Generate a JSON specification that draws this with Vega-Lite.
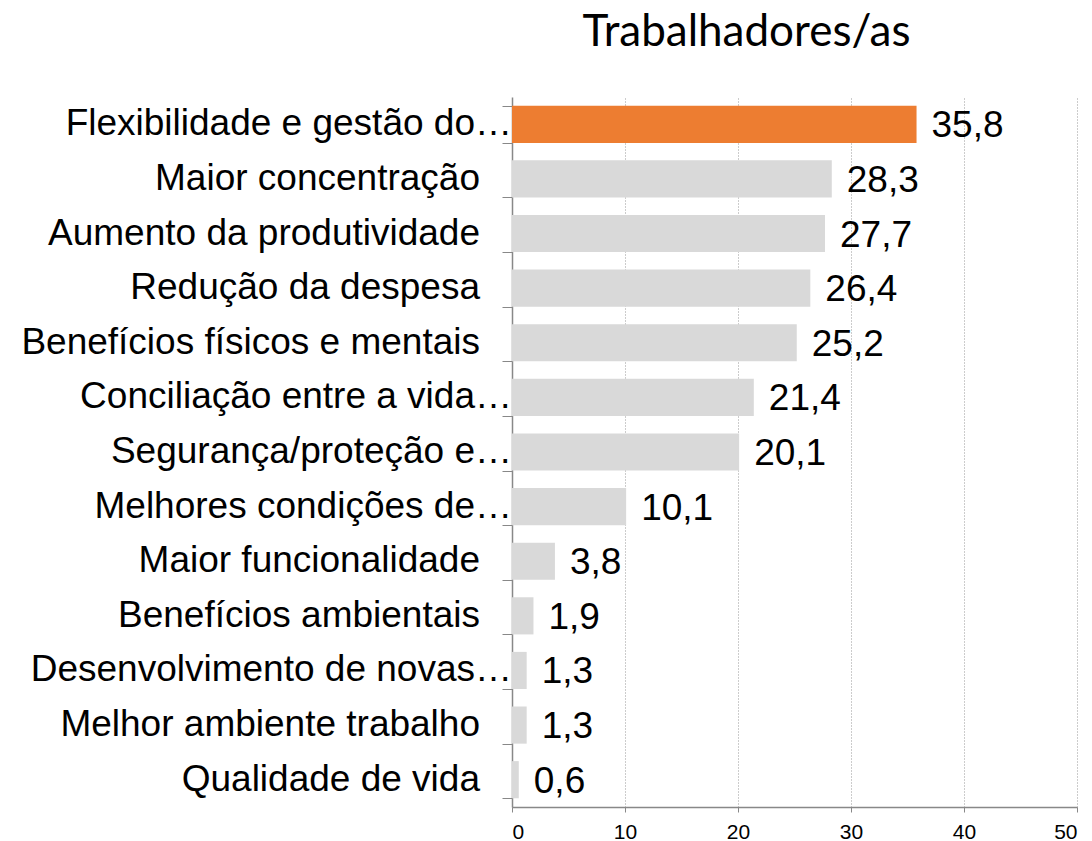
{
  "$schema": "https://vega.github.io/schema/vega-lite/v6.json",
  "autosize": "none",
  "width": 565,
  "height": 710,
  "padding": {"left": 512, "top": 97, "right": 15, "bottom": 34},
  "background": "white",
  "title": {"text": "Trabalhadores/as", "font": "Lato", "fontSize": 44, "fontWeight": "normal", "color": "#000000", "anchor": "middle", "frame": "group", "dx": -48, "offset": 42},
  "config": {
    "view": {"stroke": null},
    "locale": {"number": {"decimal": ",", "thousands": ".", "grouping": [3], "currency": ["", " €"]}}
  },
  "data": {
    "values": [
      {"categoria": "Flexibilidade e gestão do…", "valor": 35.8, "destaque": "sim"},
      {"categoria": "Maior concentração", "valor": 28.3, "destaque": "nao"},
      {"categoria": "Aumento da produtividade", "valor": 27.7, "destaque": "nao"},
      {"categoria": "Redução da despesa", "valor": 26.4, "destaque": "nao"},
      {"categoria": "Benefícios físicos e mentais", "valor": 25.2, "destaque": "nao"},
      {"categoria": "Conciliação entre a vida…", "valor": 21.4, "destaque": "nao"},
      {"categoria": "Segurança/proteção e…", "valor": 20.1, "destaque": "nao"},
      {"categoria": "Melhores condições de…", "valor": 10.1, "destaque": "nao"},
      {"categoria": "Maior funcionalidade", "valor": 3.8, "destaque": "nao"},
      {"categoria": "Benefícios ambientais", "valor": 1.9, "destaque": "nao"},
      {"categoria": "Desenvolvimento de novas…", "valor": 1.3, "destaque": "nao"},
      {"categoria": "Melhor ambiente trabalho", "valor": 1.3, "destaque": "nao"},
      {"categoria": "Qualidade de vida", "valor": 0.6, "destaque": "nao"}
    ]
  },
  "encoding": {
    "y": {
      "field": "categoria", "type": "nominal", "sort": null,
      "scale": {"paddingInner": 0.32, "paddingOuter": 0.16},
      "axis": {
        "title": null, "labels": false, "tickSize": 10, "tickColor": "#888888", "tickBand": "extent",
        "domainColor": "#888888", "domainWidth": 1.5, "grid": false
      }
    }
  },
  "layer": [
    {
      "mark": {"type": "bar"},
      "encoding": {
        "x": {
          "field": "valor", "type": "quantitative",
          "scale": {"domain": [0, 50], "nice": false},
          "axis": {
            "title": null, "values": [0, 10, 20, 30, 40, 50], "labelFont": "Liberation Sans", "labelFontSize": 21,
            "labelColor": "#000000", "tickSize": 5, "tickColor": "#888888", "domainColor": "#888888", "domainWidth": 1.5,
            "grid": true, "gridColor": "#999999", "gridDash": [1, 2], "gridWidth": 1, "labelPadding": 9
          }
        },
        "color": {"field": "destaque", "type": "nominal", "scale": {"domain": ["sim", "nao"], "range": ["#ED7D31", "#D9D9D9"]}, "legend": null}
      }
    },
    {
      "mark": {"type": "text", "align": "left", "baseline": "middle", "dx": 15, "dy": 2, "font": "Liberation Sans", "fontSize": 37, "color": "#000000"},
      "encoding": {
        "x": {"field": "valor", "type": "quantitative"},
        "text": {"field": "valor", "type": "quantitative", "format": ".1f"}
      }
    },
    {
      "transform": [{"filter": "indexof(datum.categoria, '…') < 0"}],
      "mark": {"type": "text", "align": "right", "baseline": "middle", "dx": -32, "font": "Liberation Sans", "fontSize": 37, "color": "#000000"},
      "encoding": {
        "x": {"datum": 0, "type": "quantitative"},
        "text": {"field": "categoria", "type": "nominal"}
      }
    },
    {
      "transform": [{"filter": "indexof(datum.categoria, '…') >= 0"}],
      "mark": {"type": "text", "align": "right", "baseline": "middle", "dx": 0, "font": "Liberation Sans", "fontSize": 37, "color": "#000000"},
      "encoding": {
        "x": {"datum": 0, "type": "quantitative"},
        "text": {"field": "categoria", "type": "nominal"}
      }
    }
  ]
}
